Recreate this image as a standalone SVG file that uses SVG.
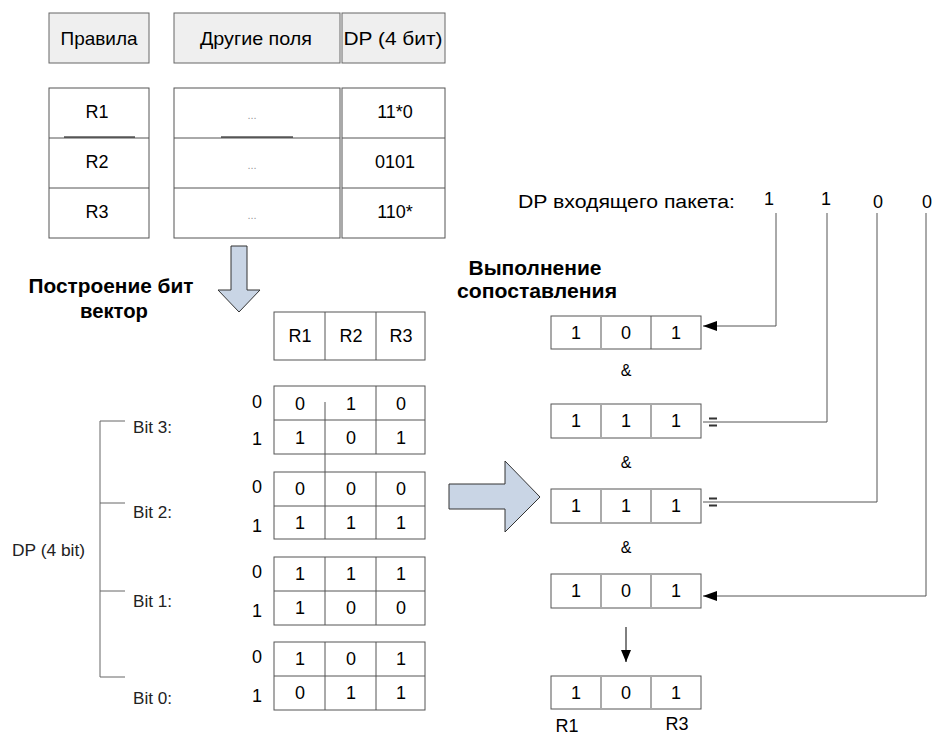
<svg xmlns="http://www.w3.org/2000/svg" width="933" height="737" viewBox="0 0 933 737">
<defs>
<style>
text{font-family:"Liberation Sans",Arial,sans-serif;fill:#000}
.t18{font-size:18px}
.t19{font-size:19px}
.t16{font-size:16px;fill:#222}
.b20{font-size:20px;font-weight:bold}
.mid{text-anchor:middle}
.dots{font-size:11px;fill:#999;text-anchor:middle}
.hdr{fill:#efefef;stroke:#666;stroke-width:1}
.cell{fill:#fff;stroke:#555;stroke-width:1}
.ln{stroke:#555;stroke-width:1;fill:none}
.sep{stroke:#aaa;stroke-width:2;fill:none}
.conn{stroke:#555;stroke-width:1;fill:none}
.bigarrow{fill:#c9d5e5;stroke:#333;stroke-width:1}
</style>
<marker id="headL" viewBox="0 0 14 10" refX="14" refY="5" markerWidth="14" markerHeight="10" markerUnits="userSpaceOnUse" orient="auto">
<path d="M0,0 L14,5 L0,10 z" fill="#000"/>
</marker>
<marker id="headD" viewBox="0 0 12 12" refX="12" refY="6" markerWidth="12" markerHeight="12" markerUnits="userSpaceOnUse" orient="auto">
<path d="M0,1 L12,6 L0,11 z" fill="#000"/>
</marker>
</defs>
<rect width="933" height="737" fill="#fff"/>

<!-- header boxes -->
<g id="hdr-rules">
<rect class="hdr" x="49" y="13" width="100" height="50"/>
<text class="t19 mid" x="99" y="45" textLength="77" lengthAdjust="spacingAndGlyphs">Правила</text>
</g>
<g id="hdr-other">
<rect class="hdr" x="174" y="13" width="166" height="50"/>
<text class="t19 mid" x="256" y="45" textLength="112" lengthAdjust="spacingAndGlyphs">Другие поля</text>
</g>
<g id="hdr-dp">
<rect class="hdr" x="342" y="13" width="103" height="50"/>
<text class="t19 mid" x="393" y="45" textLength="99" lengthAdjust="spacingAndGlyphs">DP (4 бит)</text>
</g>

<!-- rules table -->
<g id="rules-col">
<rect class="cell" x="49" y="88" width="100" height="150"/>
<line class="ln" x1="49" y1="138" x2="149" y2="138"/>
<line class="ln" x1="49" y1="188" x2="149" y2="188"/>
<line x1="64" y1="137" x2="135" y2="137" stroke="#000" stroke-width="1.2"/>
<text class="t18 mid" x="97" y="118">R1</text>
<text class="t18 mid" x="97" y="168">R2</text>
<text class="t18 mid" x="97" y="218">R3</text>
</g>
<g id="other-col">
<rect class="cell" x="174" y="88" width="166" height="150"/>
<line class="ln" x1="174" y1="138" x2="340" y2="138"/>
<line class="ln" x1="174" y1="188" x2="340" y2="188"/>
<line x1="221" y1="137" x2="293" y2="137" stroke="#000" stroke-width="1.2"/>
<text class="dots" x="252" y="119">...</text>
<text class="dots" x="252" y="169">...</text>
<text class="dots" x="252" y="219">...</text>
</g>
<g id="dp-col">
<rect class="cell" x="342" y="88" width="103" height="150"/>
<line class="ln" x1="342" y1="138" x2="445" y2="138"/>
<line class="ln" x1="342" y1="188" x2="445" y2="188"/>
<text class="t18 mid" x="395" y="118">11*0</text>
<text class="t18 mid" x="395" y="168">0101</text>
<text class="t18 mid" x="395" y="218">110*</text>
</g>

<!-- down arrow -->
<g id="arrow-down">
<path class="bigarrow" d="M231,246 H247 V290 H260 L239,312 L218,290 H231 Z"/>
</g>

<g id="label-build">
<text class="b20 mid" x="111" y="293" textLength="165" lengthAdjust="spacingAndGlyphs">Построение бит</text>
<text class="b20 mid" x="114" y="318" textLength="68" lengthAdjust="spacingAndGlyphs">вектор</text>
</g>

<!-- R header -->
<g id="r-header">
<rect class="cell" x="274" y="312" width="151" height="48"/>
<line class="ln" x1="325" y1="312" x2="325" y2="360"/>
<line class="ln" x1="376" y1="312" x2="376" y2="360"/>
<text class="t18 mid" x="300" y="342">R1</text>
<text class="t18 mid" x="351" y="342">R2</text>
<text class="t18 mid" x="401" y="342">R3</text>
</g>

<!-- bit tables -->
<g id="bit3-table">
<rect class="cell" x="274" y="386" width="151" height="68"/>
<line class="ln" x1="274" y1="420" x2="425" y2="420"/>
<line class="ln" x1="325" y1="402" x2="325" y2="472"/>
<line class="ln" x1="376" y1="386" x2="376" y2="454"/>
<text class="t18 mid" x="257" y="408">0</text>
<text class="t18 mid" x="257" y="445">1</text>
<text class="t18 mid" x="300" y="410">0</text><text class="t18 mid" x="351" y="410">1</text><text class="t18 mid" x="401" y="410">0</text>
<text class="t18 mid" x="300" y="444">1</text><text class="t18 mid" x="351" y="444">0</text><text class="t18 mid" x="401" y="444">1</text>
</g>
<g id="bit2-table">
<rect class="cell" x="274" y="472" width="151" height="67"/>
<line class="ln" x1="274" y1="506" x2="425" y2="506"/>
<line class="ln" x1="325" y1="472" x2="325" y2="539"/>
<line class="ln" x1="376" y1="472" x2="376" y2="539"/>
<text class="t18 mid" x="257" y="493">0</text>
<text class="t18 mid" x="257" y="532">1</text>
<text class="t18 mid" x="300" y="495">0</text><text class="t18 mid" x="351" y="495">0</text><text class="t18 mid" x="401" y="495">0</text>
<text class="t18 mid" x="300" y="529">1</text><text class="t18 mid" x="351" y="529">1</text><text class="t18 mid" x="401" y="529">1</text>
</g>
<g id="bit1-table">
<rect class="cell" x="274" y="557" width="151" height="68"/>
<line class="ln" x1="274" y1="591" x2="425" y2="591"/>
<line class="ln" x1="325" y1="557" x2="325" y2="625"/>
<line class="ln" x1="376" y1="557" x2="376" y2="625"/>
<text class="t18 mid" x="257" y="578">0</text>
<text class="t18 mid" x="257" y="617">1</text>
<text class="t18 mid" x="300" y="580">1</text><text class="t18 mid" x="351" y="580">1</text><text class="t18 mid" x="401" y="580">1</text>
<text class="t18 mid" x="300" y="614">1</text><text class="t18 mid" x="351" y="614">0</text><text class="t18 mid" x="401" y="614">0</text>
</g>
<g id="bit0-table">
<rect class="cell" x="274" y="642" width="151" height="68"/>
<line class="ln" x1="274" y1="676" x2="425" y2="676"/>
<line class="ln" x1="325" y1="642" x2="325" y2="710"/>
<line class="ln" x1="376" y1="642" x2="376" y2="710"/>
<text class="t18 mid" x="257" y="663">0</text>
<text class="t18 mid" x="257" y="702">1</text>
<text class="t18 mid" x="300" y="665">1</text><text class="t18 mid" x="351" y="665">0</text><text class="t18 mid" x="401" y="665">1</text>
<text class="t18 mid" x="300" y="699">0</text><text class="t18 mid" x="351" y="699">1</text><text class="t18 mid" x="401" y="699">1</text>
</g>

<!-- bracket -->
<g id="dp-bracket">
<path d="M100,421 V677 M100,421 H125 M100,503 H125 M100,591 H125 M100,677 H125" stroke="#666" stroke-width="1" fill="none"/>
<text class="t16" x="133" y="433" textLength="39" lengthAdjust="spacingAndGlyphs">Bit 3:</text>
<text class="t16" x="133" y="518" textLength="39" lengthAdjust="spacingAndGlyphs">Bit 2:</text>
<text class="t16" x="133" y="607" textLength="39" lengthAdjust="spacingAndGlyphs">Bit 1:</text>
<text class="t16" x="133" y="704" textLength="39" lengthAdjust="spacingAndGlyphs">Bit 0:</text>
<text class="t16" x="12" y="556" textLength="73" lengthAdjust="spacingAndGlyphs">DP (4 bit)</text>
</g>

<!-- big right arrow -->
<g id="arrow-right">
<path class="bigarrow" d="M449,484 H505 V461 L540,497 L505,532 V509 H449 Z"/>
</g>

<!-- right side labels -->
<g id="label-match">
<text class="b20 mid" x="535" y="275" textLength="133" lengthAdjust="spacingAndGlyphs">Выполнение</text>
<text class="b20 mid" x="537" y="298" textLength="160" lengthAdjust="spacingAndGlyphs">сопоставления</text>
</g>
<g id="packet-dp">
<text class="t18" x="518" y="208" textLength="217" lengthAdjust="spacingAndGlyphs">DP входящего пакета:</text>
<text class="t18 mid" x="769" y="205">1</text>
<text class="t18 mid" x="826" y="205">1</text>
<text class="t18 mid" x="878" y="208">0</text>
<text class="t18 mid" x="927" y="208">0</text>
</g>

<!-- match boxes -->
<g id="match-1">
<rect class="cell" x="551" y="316" width="150" height="33"/>
<line class="sep" x1="601" y1="316" x2="601" y2="349"/>
<line class="ln" x1="651" y1="316" x2="651" y2="349"/>
<text class="t18 mid" x="576" y="339">1</text><text class="t18 mid" x="626" y="339">0</text><text class="t18 mid" x="676" y="339">1</text>
</g>
<text class="t16 mid" x="626" y="376" style="fill:#000">&amp;</text>
<g id="match-2">
<rect class="cell" x="551" y="404" width="150" height="34"/>
<line class="sep" x1="601" y1="404" x2="601" y2="438"/>
<line class="sep" x1="651" y1="404" x2="651" y2="438"/>
<text class="t18 mid" x="576" y="427">1</text><text class="t18 mid" x="626" y="427">1</text><text class="t18 mid" x="676" y="427">1</text>
</g>
<text class="t16 mid" x="626" y="468" style="fill:#000">&amp;</text>
<g id="match-3">
<rect class="cell" x="551" y="489" width="150" height="34"/>
<line class="sep" x1="601" y1="489" x2="601" y2="523"/>
<line class="sep" x1="651" y1="489" x2="651" y2="523"/>
<text class="t18 mid" x="576" y="512">1</text><text class="t18 mid" x="626" y="512">1</text><text class="t18 mid" x="676" y="512">1</text>
</g>
<text class="t16 mid" x="626" y="553" style="fill:#000">&amp;</text>
<g id="match-4">
<rect class="cell" x="551" y="574" width="150" height="34"/>
<line class="sep" x1="601" y1="574" x2="601" y2="608"/>
<line class="sep" x1="651" y1="574" x2="651" y2="608"/>
<text class="t18 mid" x="576" y="597">1</text><text class="t18 mid" x="626" y="597">0</text><text class="t18 mid" x="676" y="597">1</text>
</g>
<g id="result">
<rect class="cell" x="551" y="676" width="150" height="33"/>
<line class="sep" x1="601" y1="676" x2="601" y2="709"/>
<line class="sep" x1="651" y1="676" x2="651" y2="709"/>
<text class="t18 mid" x="576" y="699">1</text><text class="t18 mid" x="626" y="699">0</text><text class="t18 mid" x="676" y="699">1</text>
<text class="t18 mid" x="567" y="732">R1</text>
<text class="t18 mid" x="677" y="730">R3</text>
</g>

<!-- connectors -->
<g id="connectors">
<path class="conn" d="M776,213 V326 H703" marker-end="url(#headL)"/>
<path class="conn" d="M827,213 V422 H703"/>
<path d="M709,418.5 H717 M709,425.5 H717" stroke="#333" stroke-width="2"/>
<path class="conn" d="M877,213 V502 H703"/>
<path d="M709,498.5 H717 M709,505.5 H717" stroke="#333" stroke-width="2"/>
<path class="conn" d="M926,213 V596 H703" marker-end="url(#headL)"/>
<path d="M626,627 V662" stroke="#000" stroke-width="1" fill="none" marker-end="url(#headD)"/>
</g>
</svg>
